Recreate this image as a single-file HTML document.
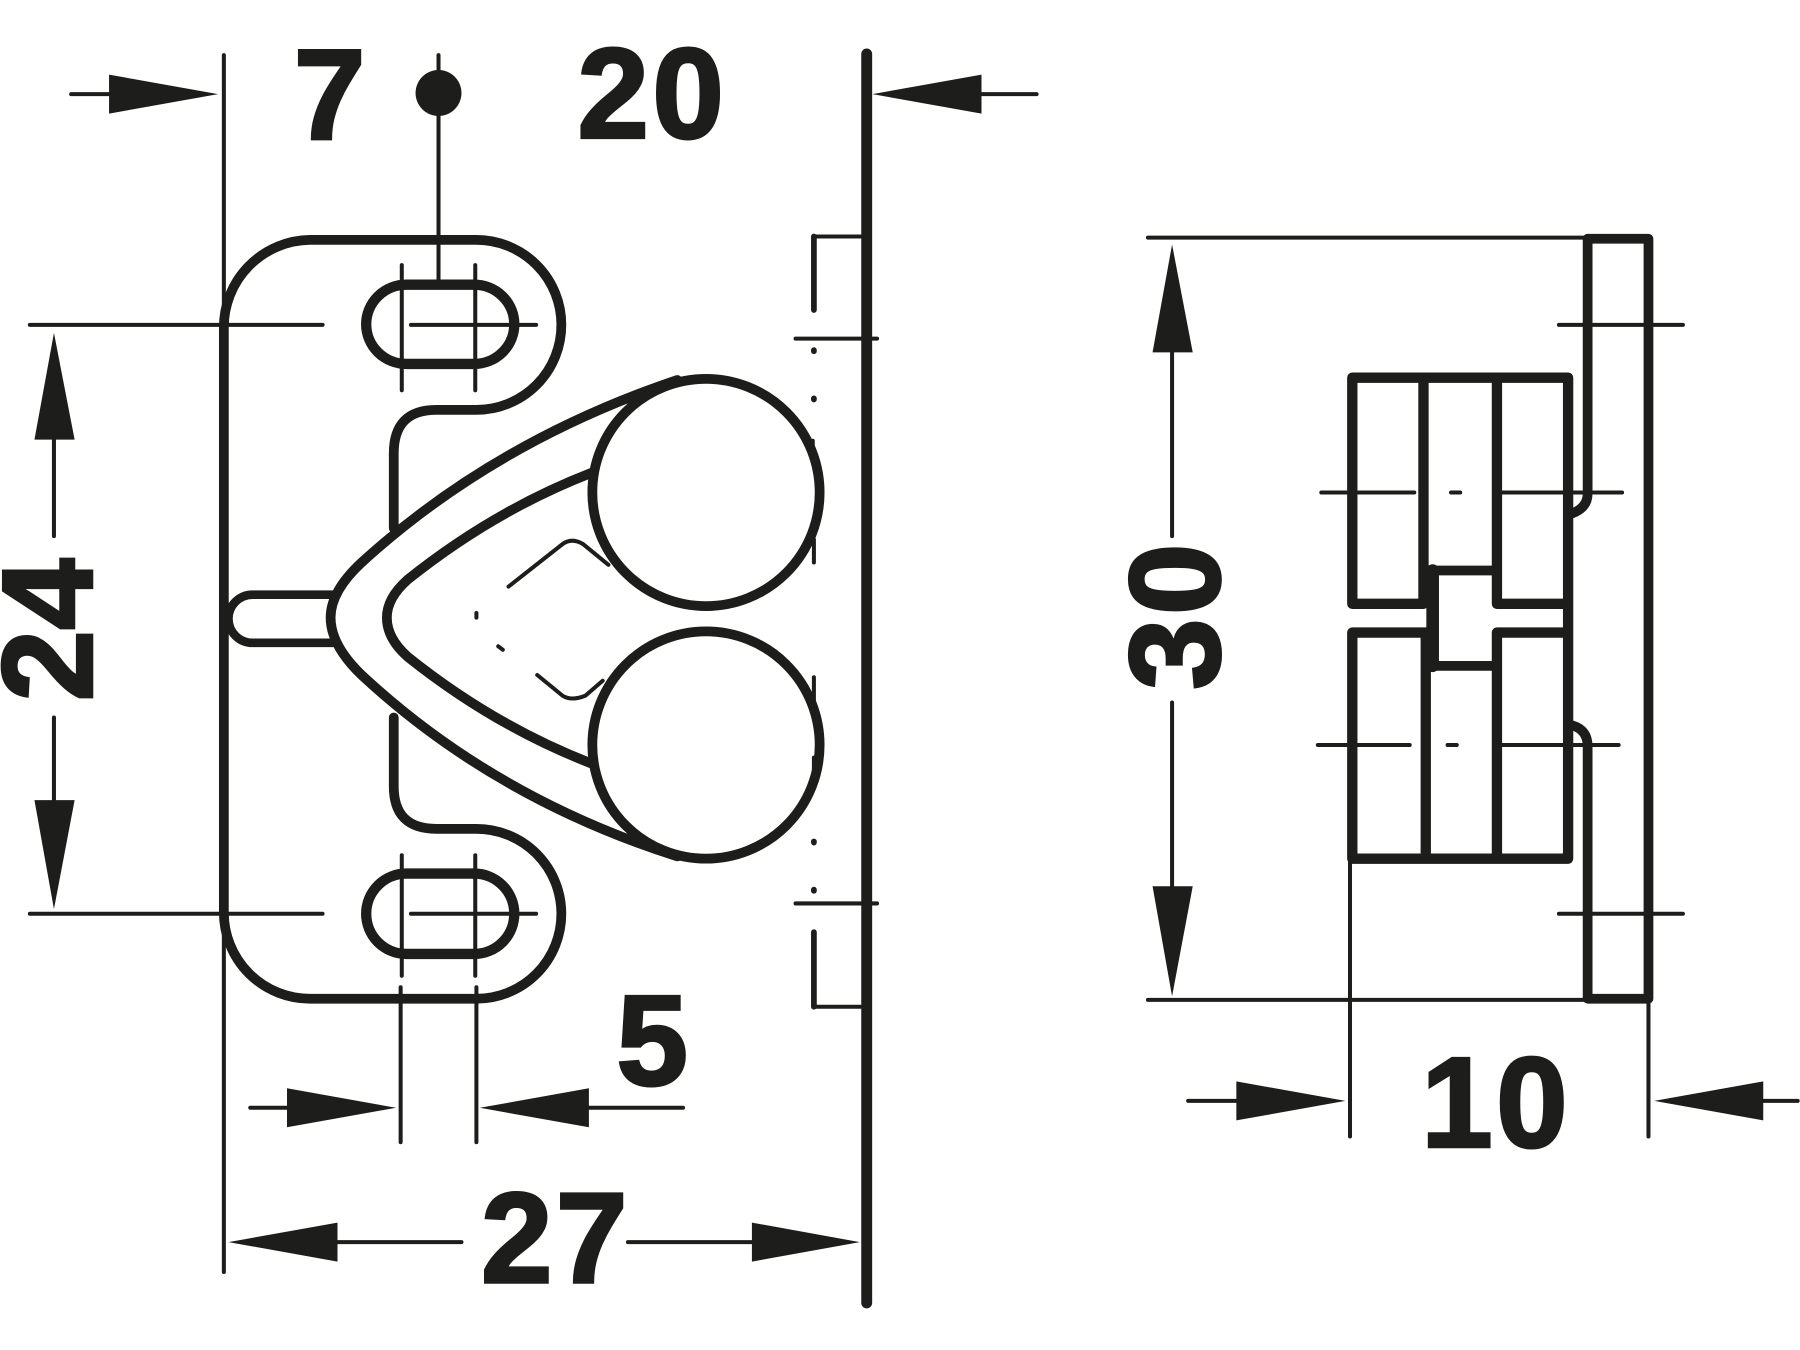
<!DOCTYPE html>
<html><head><meta charset="utf-8"><style>
html,body{margin:0;padding:0;background:#fff}
svg{display:block}
text{font-family:"Liberation Sans",sans-serif;font-weight:700;fill:#1d1d1b;stroke:#1d1d1b;stroke-width:2.5;font-size:112px;letter-spacing:3px}
.m{fill:none;stroke:#1d1d1b;stroke-width:8.5;stroke-linecap:round;stroke-linejoin:round}
.t{fill:none;stroke:#1d1d1b;stroke-width:3.5;stroke-linecap:round}
.a{fill:#1d1d1b}
</style></head><body>
<svg width="1800" height="1350" viewBox="0 0 1568 1176" xmlns="http://www.w3.org/2000/svg">
<!-- left view -->
<path class="m" d="M195,795V285A76,76 0 0 1 270,209H415A74,74 0 0 1 415,357H380Q343,357 343,395V460"/>
<path class="m" d="M195,795A75,75 0 0 0 270,870H415A74,74 0 0 0 415,722H380Q343,722 343,685V625"/>
<rect class="m" x="319" y="248" width="129" height="69" rx="35" style="stroke-width:9"/>
<rect class="m" x="319" y="761" width="129" height="70" rx="35" style="stroke-width:9"/>
<path class="m" d="M590,331Q430,385 315,490Q288,515 288,538Q288,562 315,588Q430,695 590,746"/>
<path class="m" d="M515,412Q430,445 355,505Q337,521 337,538Q337,556 355,572Q430,632 515,665"/>
<path class="m" style="stroke-width:7.5" d="M290,518H220A21,21 0 0 0 220,560H290"/>
<circle class="m" cx="615" cy="429" r="99"/>
<circle class="m" cx="615" cy="649" r="99"/>
<path class="t" d="M443,511L490,474Q498,468 508,474L530,492M468,588L490,606Q498,611 510,606L525,593"/>
<path class="t" d="M708,384V390M709,470V490M709,590V610M709,660V680M415,534V538M434,563L438,566"/>
<!-- dim lines left -->
<path class="t" d="M195,48V270M195,800V1108M26,283H281M358,283H467M26,796H281M358,796H467"/>
<path class="t" d="M350,231V340M414,231V340M350,745V850M414,745V850M349,860V995M415,860V995"/>
<path class="t" d="M382,48V245M62,82H100M903,82H850M47,383V467M47,625V697M218,965H255M513,965H595M294,1082H402M547,1082H655"/>
<circle class="a" cx="382" cy="81" r="20"/>
<polygon class="a" points="95,65 190,82 95,99"/>
<polygon class="a" points="760,82 855,65 855,99"/>
<polygon class="a" points="47,290 30,383 65,383"/>
<polygon class="a" points="47,792 30,697 65,697"/>
<polygon class="a" points="345,965 250,948 250,982"/>
<polygon class="a" points="418,965 513,948 513,982"/>
<polygon class="a" points="199,1082 294,1065 294,1099"/>
<polygon class="a" points="749,1082 655,1065 655,1099"/>
<!-- right edge -->
<path class="m" d="M755,47V1135" style="stroke-width:9.5"/>
<path class="t" d="M750,206H709M750,877H709M693,295H764M693,787H764"/>
<path class="t" style="stroke-width:5" d="M709,206V270M709,877V812M709,305V306M709,347V348M709,733V734M709,775V776"/>
<!-- right view -->
<path class="m" d="M1383,208H1436V870H1383V650Q1383,636 1370,632"/>
<path class="m" d="M1383,208V430Q1383,442 1370,447"/>
<path class="m" style="stroke-width:9" d="M1178,526V329H1366V748H1178V551H1245M1178,526H1240V329M1304,329V526H1366M1242,551V748M1304,748V551H1366"/>
<path class="m" d="M1242,497H1304V526M1244,580H1304V551"/>
<path class="m" style="stroke-width:11" d="M1248,497V580"/>
<path class="t" d="M1000,207H1383M1000,871H1383M1176,748V990M1436,870V990M1358,283H1466M1358,796H1466M1151,429H1232M1306,429H1413M1264,429H1272M1148,649H1228M1306,649H1410M1261,649H1269"/>
<path class="t" d="M1021,307V467M1021,612V772M1035,959H1077M1536,959H1566"/>
<polygon class="a" points="1021,213 1004,307 1039,307"/>
<polygon class="a" points="1021,868 1004,772 1039,772"/>
<polygon class="a" points="1172,959 1077,942 1077,976"/>
<polygon class="a" points="1441,959 1536,942 1536,976"/>
<!-- labels -->
<text x="256" y="121">7</text>
<text x="503" y="120">20</text>
<text x="537" y="945">5</text>
<text x="419" y="1117">27</text>
<text x="1238" y="999">10</text>
<text transform="translate(80,611) rotate(-90)" style="letter-spacing:0">24</text>
<text transform="translate(1062,601) rotate(-90)">30</text>
</svg>
</body></html>
